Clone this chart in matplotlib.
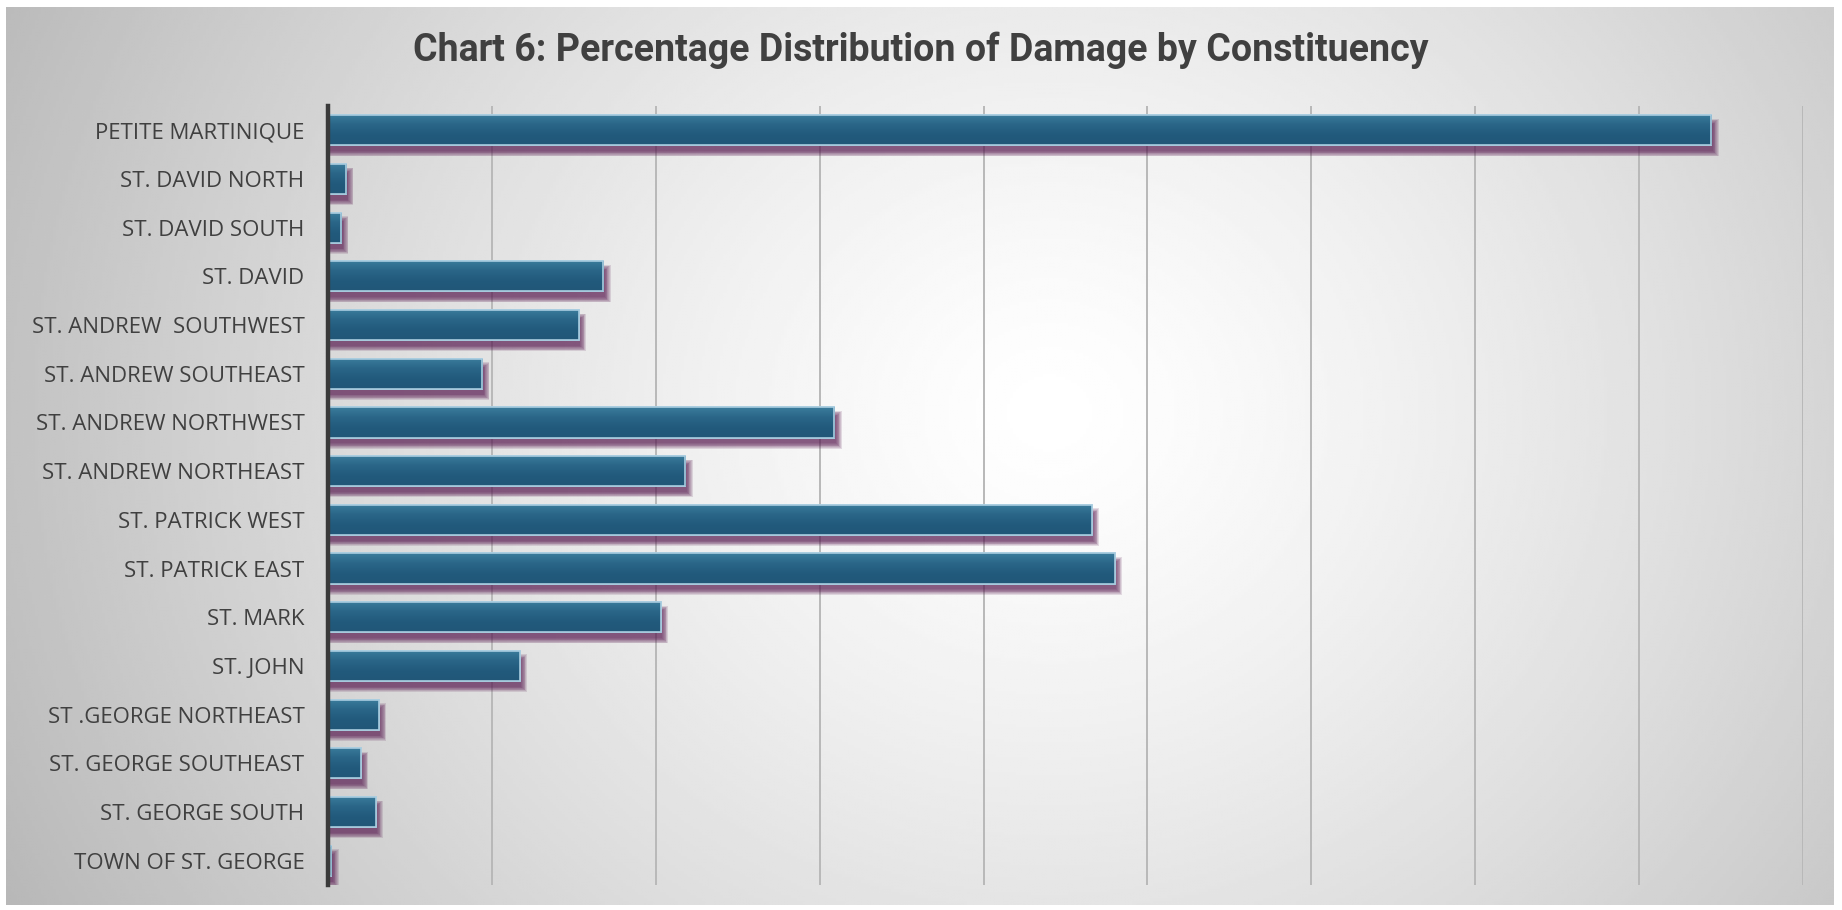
import numpy as np
import matplotlib.pyplot as plt
from matplotlib.colors import LinearSegmentedColormap

# constituencies, top to bottom as shown on the chart
constituencies = ["PETITE MARTINIQUE", "ST. DAVID NORTH", "ST. DAVID SOUTH", "ST. DAVID",
                  "ST. ANDREW  SOUTHWEST", "ST. ANDREW SOUTHEAST", "ST. ANDREW NORTHWEST",
                  "ST. ANDREW NORTHEAST", "ST. PATRICK WEST", "ST. PATRICK EAST", "ST. MARK",
                  "ST. JOHN", "ST .GEORGE NORTHEAST", "ST. GEORGE SOUTHEAST",
                  "ST. GEORGE SOUTH", "TOWN OF ST. GEORGE"]
# percentage of damage
damage_pct = [8.44, 0.11, 0.08, 1.68, 1.53, 0.94, 3.09, 2.18,
              4.66, 4.80, 2.03, 1.17, 0.31, 0.20, 0.29, 0.02]

W, H = 1842, 910
fig = plt.figure(figsize=(W / 100, H / 100), dpi=100)
fig.patch.set_facecolor("white")

# radial grey background inside a thin frame
bg = fig.add_axes([6 / W, 5 / H, 1827 / W, 898 / H])
bg.set_axis_off()
yy, xx = np.mgrid[0:300, 0:600]
cx, cy = 0.57 * 600, 0.45 * 300
d = np.sqrt(((xx - cx) / 600) ** 2 + ((yy - cy) / 300 * 0.55) ** 2)
d = d / d.max()
shade = np.clip(1.0 - 0.28 * d ** 1.3, 0, 1)
bg.imshow(shade, cmap="gray", vmin=0, vmax=1, aspect="auto",
          extent=[0, 1, 0, 1], interpolation="bilinear")

ax = fig.add_axes([328 / W, 25 / H, (1803 - 328) / W, (885 - 106) / H])
ax.patch.set_alpha(0)

y = np.arange(len(constituencies))
bar_h = 0.62

# blurred purple shadow under each bar
for k in range(8):
    grow = 0.03 * k
    ax.barh(y + 0.15, np.array(damage_pct) + 0.01 + 0.005 * k, height=bar_h - 0.06 + grow,
            left=0, color="#5a1c52", alpha=0.14, linewidth=0, zorder=2)

bars = ax.barh(y, damage_pct, height=bar_h, color="#245b7e",
               edgecolor="#a9cde0", linewidth=1.2, zorder=3)

# vertical gradient inside each bar
grad_cmap = LinearSegmentedColormap.from_list("bar", ["#3b7c9c", "#2a6688", "#225a7c", "#215778"])
grad = np.linspace(0, 1, 64).reshape(-1, 1)
for b in bars:
    x0, y0 = b.get_x(), b.get_y()
    im = ax.imshow(grad, cmap=grad_cmap, aspect="auto", zorder=3.5,
                   extent=[x0, x0 + b.get_width(), y0 + b.get_height(), y0],
                   interpolation="bilinear")
    im.set_clip_path(b)
    edge = plt.Rectangle((x0, y0), b.get_width(), b.get_height(), fill=False,
                         edgecolor="#a9cde0", linewidth=1.2, zorder=4)
    ax.add_patch(edge)

ax.set_xlim(0, 9)
ax.set_ylim(len(constituencies) - 0.5, -0.5)
ax.set_xticks(np.arange(1, 10))
ax.set_xticklabels([])
ax.tick_params(axis="x", length=0)
ax.tick_params(axis="y", length=0, pad=17, labelsize=16, labelcolor="#404040")
ax.set_yticks(y)
ax.set_yticklabels(constituencies, family="Open Sans")
ax.grid(axis="x", color="#b8b8b8", linewidth=1.4, zorder=1)
ax.set_axisbelow(True)
for side in ["top", "right", "bottom"]:
    ax.spines[side].set_visible(False)
ax.spines["left"].set_color("#3a3a3a")
ax.spines["left"].set_linewidth(3.2)
ax.spines["left"].set_zorder(6)

fig.text(921 / W, 1 - 50 / H, "Chart 6: Percentage Distribution of Damage by Constituency",
         ha="center", va="center", fontsize=27, fontweight="bold", color="#404040",
         family="Roboto")

fig.savefig("out.png", dpi=100)
